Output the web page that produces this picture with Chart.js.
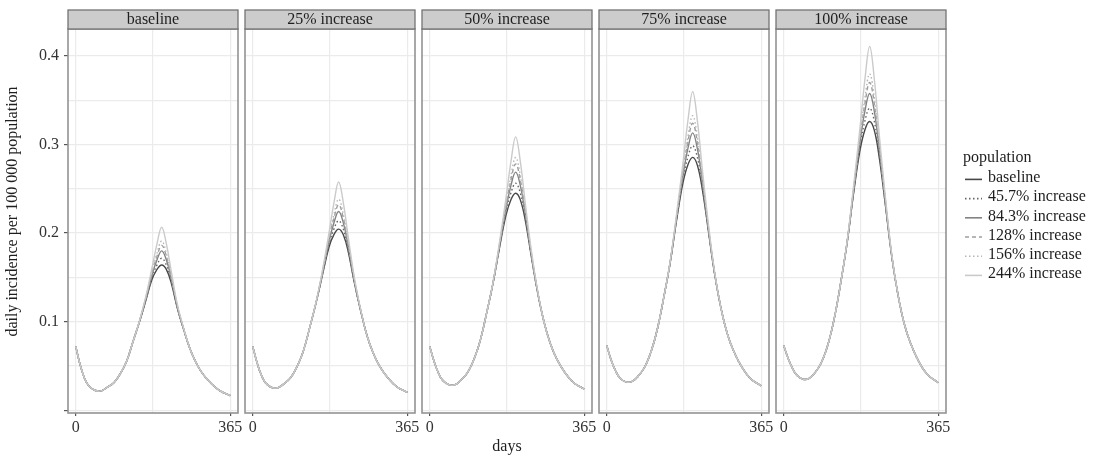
<!DOCTYPE html>
<html>
<head>
<meta charset="utf-8">
<title>Daily incidence by population scenario</title>
<script src="https://cdn.jsdelivr.net/npm/chart.js@4.4.1/dist/chart.umd.min.js"></script>
<style>
  html, body { margin: 0; padding: 0; background: #fff; }
  #figure { position: relative; width: 1093px; height: 460px; overflow: hidden; }
  #figure canvas { position: absolute; top: 0; }
</style>
</head>
<body>
<div id="figure"></div>
<script>
// ===== data =====
const panelTitles = ['baseline', '25% increase', '50% increase', '75% increase', '100% increase'];
const populationLabels = ['baseline', '45.7% increase', '84.3% increase', '128% increase', '156% increase', '244% increase'];

const days = [0, 10, 20, 30, 45, 60, 75, 90, 105, 120, 135, 150, 165, 180, 192, 203, 214, 226, 240, 255, 270, 285, 300, 320, 340, 365];
// the population scenarios only separate between days[11] (150) and days[19] (255)
const splitFrom = 11;
const splitTo = 20;

const xBreaks = [0, 365];
const xMinor = [182.5];
const yBreaks = [0, 0.1, 0.2, 0.3, 0.4];
const yBreakLabels = ['', '0.1', '0.2', '0.3', '0.4'];
const yMinor = [0.05, 0.15, 0.25, 0.35];

// baseline population, one curve per facet
const panel1Baseline = [0.072, 0.052, 0.037, 0.028, 0.0225, 0.0218, 0.026, 0.031, 0.041, 0.055, 0.077, 0.099, 0.123, 0.1475, 0.159, 0.164, 0.159, 0.143, 0.115, 0.091, 0.069, 0.053, 0.041, 0.030, 0.022, 0.0165];
const panel2Baseline = [0.072, 0.054, 0.040, 0.031, 0.0256, 0.0254, 0.0303, 0.037, 0.0495, 0.0675, 0.094, 0.122, 0.1535, 0.184, 0.1985, 0.2045, 0.198, 0.178, 0.144, 0.112, 0.084, 0.064, 0.0495, 0.036, 0.0265, 0.020];
const panel3Baseline = [0.072, 0.0555, 0.0425, 0.034, 0.0288, 0.0289, 0.0345, 0.043, 0.058, 0.080, 0.111, 0.1445, 0.184, 0.220, 0.238, 0.245, 0.2375, 0.2135, 0.1735, 0.1325, 0.0995, 0.075, 0.058, 0.042, 0.031, 0.0238];
const panel4Baseline = [0.073, 0.0573, 0.0453, 0.037, 0.0319, 0.0325, 0.0388, 0.049, 0.0665, 0.0925, 0.128, 0.167, 0.2145, 0.2566, 0.2775, 0.2855, 0.2768, 0.2488, 0.2028, 0.1533, 0.1148, 0.086, 0.0665, 0.048, 0.0355, 0.0274];
const panel5Baseline = [0.073, 0.059, 0.048, 0.040, 0.035, 0.036, 0.043, 0.055, 0.075, 0.105, 0.145, 0.190, 0.245, 0.293, 0.317, 0.326, 0.316, 0.284, 0.232, 0.174, 0.130, 0.097, 0.075, 0.054, 0.040, 0.031];

// values for days 150..255 of the larger populations (45.7%, 84.3%, 128%, 156%, 244%)
const panel1Peaks = [
    [0.0992, 0.1238, 0.1498, 0.1641, 0.1715, 0.1641, 0.1453, 0.1158, 0.0912],
    [0.0993, 0.1246, 0.1523, 0.1698, 0.1799, 0.1698, 0.1478, 0.1167, 0.0915],
    [0.0994, 0.1252, 0.1541, 0.1740, 0.1861, 0.1740, 0.1496, 0.1174, 0.0917],
    [0.0995, 0.1257, 0.1556, 0.1774, 0.1911, 0.1774, 0.1511, 0.1180, 0.0918],
    [0.0999, 0.1273, 0.1603, 0.1880, 0.2066, 0.1880, 0.1558, 0.1197, 0.0923]
];
const panel2Peaks = [
    [0.1222, 0.1544, 0.1868, 0.2049, 0.2139, 0.2044, 0.1808, 0.1450, 0.1123],
    [0.1224, 0.1555, 0.1899, 0.2120, 0.2243, 0.2115, 0.1839, 0.1462, 0.1126],
    [0.1226, 0.1563, 0.1923, 0.2173, 0.2321, 0.2168, 0.1863, 0.1470, 0.1128],
    [0.1227, 0.1569, 0.1941, 0.2214, 0.2382, 0.2209, 0.1881, 0.1477, 0.1130],
    [0.1231, 0.1588, 0.2000, 0.2347, 0.2577, 0.2342, 0.1940, 0.1499, 0.1136]
];
const panel3Peaks = [
    [0.1447, 0.1851, 0.2234, 0.2457, 0.2563, 0.2452, 0.2169, 0.1747, 0.1328],
    [0.1450, 0.1864, 0.2271, 0.2542, 0.2688, 0.2537, 0.2206, 0.1761, 0.1332],
    [0.1452, 0.1873, 0.2299, 0.2605, 0.2781, 0.2600, 0.2234, 0.1771, 0.1335],
    [0.1453, 0.1880, 0.2321, 0.2655, 0.2854, 0.2650, 0.2256, 0.1779, 0.1337],
    [0.1458, 0.1904, 0.2391, 0.2813, 0.3087, 0.2808, 0.2326, 0.1805, 0.1344]
];
const panel4Peaks = [
    [0.1673, 0.2158, 0.2605, 0.2864, 0.2986, 0.2857, 0.2527, 0.2042, 0.1537],
    [0.1676, 0.2173, 0.2649, 0.2963, 0.3132, 0.2956, 0.2571, 0.2058, 0.1541],
    [0.1678, 0.2184, 0.2682, 0.3037, 0.3240, 0.3030, 0.2604, 0.2070, 0.1545],
    [0.1679, 0.2192, 0.2707, 0.3095, 0.3326, 0.3088, 0.2629, 0.2080, 0.1547],
    [0.1685, 0.2219, 0.2789, 0.3280, 0.3597, 0.3273, 0.2711, 0.2110, 0.1555]
];
const panel5Peaks = [
    [0.1903, 0.2465, 0.2975, 0.3272, 0.3410, 0.3262, 0.2885, 0.2337, 0.1745],
    [0.1906, 0.2482, 0.3025, 0.3385, 0.3576, 0.3375, 0.2935, 0.2355, 0.1749],
    [0.1909, 0.2494, 0.3062, 0.3469, 0.3700, 0.3459, 0.2972, 0.2368, 0.1753],
    [0.1911, 0.2504, 0.3091, 0.3536, 0.3798, 0.3526, 0.3001, 0.2379, 0.1756],
    [0.1917, 0.2535, 0.3184, 0.3747, 0.4108, 0.3737, 0.3094, 0.2413, 0.1765]
];

const baselines = [panel1Baseline, panel2Baseline, panel3Baseline, panel4Baseline, panel5Baseline];
const peaks = [panel1Peaks, panel2Peaks, panel3Peaks, panel4Peaks, panel5Peaks];

// ===== look =====
const FONT = '"Liberation Serif", "Times New Roman", serif';
const seriesColors = ['#474747', '#676767', '#838383', '#9e9e9e', '#b6b6b6', '#cacaca'];
const seriesDash = [[], [1.5, 2.5], [], [4, 3], [1.5, 2.5], []];

const FIG_W = 1093, FIG_H = 460;
const PANEL_W = 170, PANEL_STEP = 177, FIRST_LEFT = 68;
const AXIS_W = 68, RIGHT_PAD = 20;
const PLOT_TOP = 29, PLOT_BOTTOM = 413, STRIP_TOP = 10;
const X_MIN = -18.25, X_MAX = 383.25, Y_MIN = -0.0032, Y_MAX = 0.4305;

function seriesFor(panel, k) {
    const base = baselines[panel];
    const vals = k === 0 ? base : base.map((v, i) => (i >= splitFrom && i < splitTo) ? peaks[panel][k - 1][i - splitFrom] : v);
    return days.map((d, i) => ({ x: d, y: vals[i] }));
}

// frame, strip, legend and y title drawn around each facet
const facetPlugin = {
    id: 'facet',
    afterDatasetsDraw(chart, args, opts) {
        const { ctx, chartArea: a } = chart;
        ctx.save();
        ctx.strokeStyle = '#939393';
        ctx.lineWidth = 1.6;
        ctx.strokeRect(a.left, a.top, a.right - a.left, a.bottom - a.top);

        ctx.fillStyle = '#cccccc';
        ctx.fillRect(a.left, STRIP_TOP, a.right - a.left, a.top - STRIP_TOP);
        ctx.strokeStyle = '#747474';
        ctx.lineWidth = 1.3;
        ctx.strokeRect(a.left, STRIP_TOP, a.right - a.left, a.top - STRIP_TOP);

        ctx.fillStyle = '#1e1e1e';
        ctx.font = '16px ' + FONT;
        ctx.textAlign = 'center';
        ctx.textBaseline = 'middle';
        ctx.fillText(opts.title, (a.left + a.right) / 2, (STRIP_TOP + a.top) / 2 + 0.5);

        if (opts.yTitle) {
            ctx.save();
            ctx.translate(13, (STRIP_TOP + a.bottom) / 2);
            ctx.rotate(-Math.PI / 2);
            ctx.fillText(opts.yTitle, 0, 0);
            ctx.restore();
        }

        if (opts.legend) {
            const x0 = a.right + 17;
            ctx.textAlign = 'left';
            ctx.fillStyle = '#1e1e1e';
            ctx.fillText(opts.legend, x0, 158);
            chart.data.datasets.forEach((ds, k) => {
                const y = 178 + 19.2 * k;
                ctx.strokeStyle = ds.borderColor;
                ctx.lineWidth = ds.borderWidth + 0.2;
                ctx.setLineDash(ds.borderDash);
                ctx.beginPath();
                ctx.moveTo(x0 + 2, y + 1.4);
                ctx.lineTo(x0 + 19, y + 1.4);
                ctx.stroke();
                ctx.setLineDash([]);
                ctx.fillStyle = '#1e1e1e';
                ctx.fillText(ds.label, x0 + 25, y);
            });
        }
        ctx.restore();
    }
};

function buildPanel(p) {
    const isFirst = p === 0;
    const isLast = p === panelTitles.length - 1;
    const plotLeft = FIRST_LEFT + p * PANEL_STEP;
    const canvasLeft = plotLeft - AXIS_W;
    const width = isLast ? FIG_W - canvasLeft : AXIS_W + PANEL_W + RIGHT_PAD;

    const canvas = document.createElement('canvas');
    canvas.width = width;
    canvas.height = FIG_H;
    canvas.style.left = canvasLeft + 'px';
    canvas.style.width = width + 'px';
    canvas.style.height = FIG_H + 'px';
    document.getElementById('figure').appendChild(canvas);

    const datasets = populationLabels.map((label, k) => ({
        label: label,
        data: seriesFor(p, k),
        borderColor: seriesColors[k],
        borderDash: seriesDash[k],
        borderWidth: 1.4,
        pointRadius: 0,
        fill: false,
        tension: 0.4,
        order: populationLabels.length - k
    }));

    new Chart(canvas.getContext('2d'), {
        type: 'line',
        data: { datasets: datasets },
        plugins: [facetPlugin],
        options: {
            responsive: false,
            animation: false,
            devicePixelRatio: 1,
            layout: { padding: { top: PLOT_TOP, left: 0, bottom: 0, right: width - AXIS_W - PANEL_W } },
            plugins: {
                legend: { display: false },
                tooltip: { enabled: false },
                facet: {
                    title: panelTitles[p],
                    yTitle: isFirst ? 'daily incidence per 100 000 population' : null,
                    legend: isLast ? 'population' : null
                }
            },
            scales: {
                x: {
                    type: 'linear',
                    min: X_MIN,
                    max: X_MAX,
                    afterFit: s => { s.height = FIG_H - PLOT_BOTTOM; },
                    afterBuildTicks: s => { s.ticks = xBreaks.concat(xMinor).sort((a, b) => a - b).map(v => ({ value: v })); },
                    ticks: {
                        autoSkip: false,
                        maxRotation: 0,
                        padding: 2,
                        color: '#333',
                        font: { family: FONT, size: 16 },
                        callback: v => xBreaks.includes(v) ? String(v) : ''
                    },
                    grid: {
                        color: '#ebebeb',
                        lineWidth: 1.2,
                        tickLength: 3,
                        tickColor: c => (c.tick && xBreaks.includes(c.tick.value)) ? '#555' : 'rgba(0,0,0,0)'
                    },
                    border: { display: false },
                    title: {
                        display: p === 2,
                        text: 'days',
                        color: '#1e1e1e',
                        font: { family: FONT, size: 16 },
                        padding: { top: 0, bottom: 4 }
                    }
                },
                y: {
                    type: 'linear',
                    min: Y_MIN,
                    max: Y_MAX,
                    afterFit: s => { s.width = AXIS_W; },
                    afterBuildTicks: s => { s.ticks = yBreaks.concat(yMinor).sort((a, b) => a - b).map(v => ({ value: v })); },
                    ticks: {
                        display: isFirst,
                        padding: 5,
                        color: '#333',
                        font: { family: FONT, size: 16 },
                        callback: v => { const i = yBreaks.indexOf(v); return i >= 0 ? yBreakLabels[i] : ''; }
                    },
                    grid: {
                        color: '#ebebeb',
                        lineWidth: 1.2,
                        tickLength: 4,
                        tickColor: c => (isFirst && c.tick && yBreaks.includes(c.tick.value)) ? '#555' : 'rgba(0,0,0,0)'
                    },
                    border: { display: false }
                }
            }
        }
    });
}

panelTitles.forEach((t, p) => buildPanel(p));
</script>
</body>
</html>
